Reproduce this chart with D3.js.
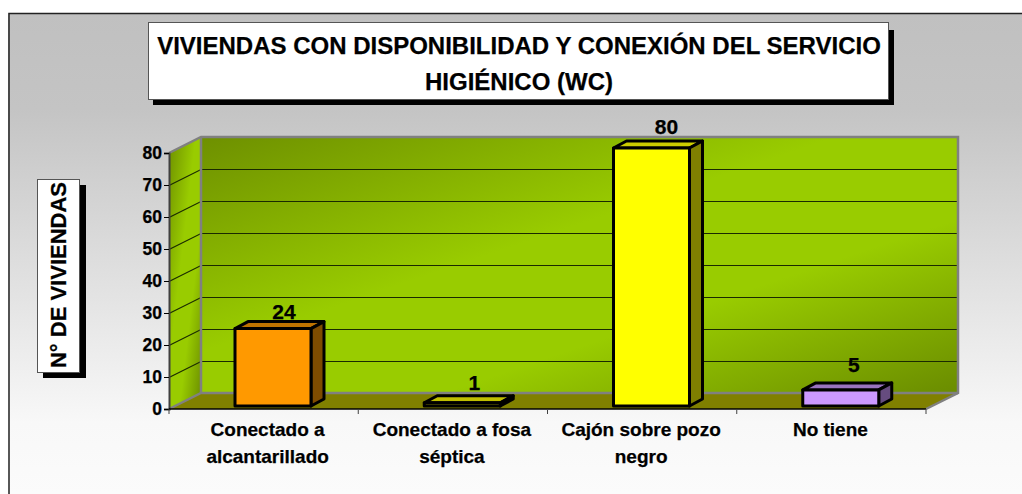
<!DOCTYPE html>
<html>
<head>
<meta charset="utf-8">
<script src="https://cdn.jsdelivr.net/npm/d3@7"></script>
<style>
  html, body { margin: 0; padding: 0; background: #fff; }
  svg { display: block; }
  text { font-family: "Liberation Sans", Arial, sans-serif; font-weight: bold; fill: #000; stroke: #000; stroke-width: 0.25px; }
</style>
</head>
<body>
<svg id="chart" width="1022" height="494"></svg>
<script>
var categories = [["Conectado a", "alcantarillado"], ["Conectado a fosa", "séptica"], ["Cajón sobre pozo", "negro"], ["No tiene"]];
var values = [24, 1, 80, 5];
var barColors = ["#ff9900", "#cccc00", "#ffff00", "#cc99ff"];
var topColors = ["#bf7300", "#bfbf00", "#cccc00", "#9973bf"];
var sideColors = ["#7f4c00", "#7f7f00", "#7f7f00", "#664c7f"];
var yTicks = [0, 10, 20, 30, 40, 50, 60, 70, 80];
var titleLines = ["VIVIENDAS CON DISPONIBILIDAD Y CONEXIÓN DEL SERVICIO", "HIGIÉNICO (WC)"];
var yTitle = "N° DE VIVIENDAS";

var svg = d3.select("#chart");
var defs = svg.append("defs");

function gradient(id, x1, y1, x2, y2, stops) {
  var g = defs.append("linearGradient").attr("id", id)
    .attr("x1", x1).attr("y1", y1).attr("x2", x2).attr("y2", y2);
  stops.forEach(s => g.append("stop").attr("offset", s[0]).attr("stop-color", s[1]));
}
gradient("bgGrad", 0, 0, 0, 1, [[0, "#c0c0c0"], [0.2, "#c4c4c4"], [0.85, "#f8f8f8"], [1, "#fbfbfb"]]);
gradient("wallGrad", 0, 0, 1, 1, [[0, "#6e9000"], [0.42, "#99cc00"], [0.66, "#99cc00"], [1, "#6a8c00"]]);

// chart frame, only the top and left edges show
svg.append("rect").attr("x", 8).attr("y", 13).attr("width", 1014).attr("height", 481)
  .attr("fill", "url(#bgGrad)");
svg.append("path").attr("d", "M9,494V13.5H1022")
  .attr("fill", "none").attr("stroke", "#222").attr("stroke-width", 1.5);

var left = 169, right = 926, base = 409, topY = 153;
var depthX = 32, depthY = -16;

var x = d3.scaleBand().domain(d3.range(categories.length)).range([left, right]);
var y = d3.scaleLinear().domain([0, 80]).range([base, topY]);
// bars stand inside the floor, so they get their own vertical scale
var barY = d3.scaleLinear().domain([0, 80]).range([406, 148]);

var line = d3.line();

// side wall
svg.append("path")
  .attr("d", line([[left, base], [left, topY], [left + depthX, topY + depthY], [left + depthX, base + depthY]]) + "Z")
  .attr("fill", "url(#wallGrad)");

// back wall
svg.append("rect")
  .attr("x", left + depthX).attr("y", topY + depthY)
  .attr("width", right - left).attr("height", base - topY)
  .attr("fill", "url(#wallGrad)");

// floor
svg.append("path")
  .attr("d", line([[left, base], [left + depthX, base + depthY], [right + depthX, base + depthY], [right, base]]) + "Z")
  .attr("fill", "#808000");

// gridlines on walls
var grid = yTicks.filter(d => d > 0 && d < 80);
svg.append("g").selectAll("path").data(grid).enter().append("path")
  .attr("d", d => line([[left, y(d) + .5], [left + depthX, y(d) + depthY + .5], [right + depthX, y(d) + depthY + .5]]))
  .attr("fill", "none").attr("stroke", "#1a2a00").attr("stroke-width", 1.2);

// wall outline
svg.append("path")
  .attr("d", line([[left, topY], [left + depthX, topY + depthY], [right + depthX, topY + depthY], [right + depthX, base + depthY], [right, base]]))
  .attr("fill", "none").attr("stroke", "#808080").attr("stroke-width", 2.5);
svg.append("path")
  .attr("d", line([[left, base], [left + depthX, base + depthY], [right + depthX, base + depthY]]))
  .attr("fill", "none").attr("stroke", "#808080").attr("stroke-width", 2.5);
svg.append("path")
  .attr("d", line([[left + depthX, topY + depthY], [left + depthX, base + depthY]]))
  .attr("fill", "none").attr("stroke", "#808080").attr("stroke-width", 2.5);

// axes
var yAxis = d3.axisLeft(y).tickValues(yTicks).tickSize(5).tickPadding(2);
var gy = svg.append("g").attr("transform", "translate(" + left + ",0)").call(yAxis);
gy.selectAll("text").style("font-size", "17.5px").style("font-family", "'Liberation Sans', Arial, sans-serif").style("font-weight", "bold");
gy.select(".domain").attr("stroke", "#404040").attr("stroke-width", 2);

var edges = d3.range(categories.length + 1).map(i => left + i * x.step());
var gx = svg.append("g");
gx.append("line").attr("x1", left).attr("x2", right).attr("y1", base).attr("y2", base)
  .attr("stroke", "#000").attr("stroke-width", 1.5);
gx.selectAll(".tick").data(edges).enter().append("line").attr("class", "tick")
  .attr("x1", d => d).attr("x2", d => d).attr("y1", base).attr("y2", base + 5)
  .attr("stroke", "#404040");

var catNudge = [4, -1, -1, -1];
gx.selectAll(".cat").data(categories).enter().append("text").attr("class", "cat")
  .attr("text-anchor", "middle").style("font-size", "19px")
  .attr("transform", (d, i) => "translate(" + (x(i) + x.bandwidth() / 2 + catNudge[i]) + ",0)")
  .selectAll("tspan").data(d => d).enter().append("tspan")
  .attr("x", 0).attr("y", (d, i) => 436 + i * 27)
  .text(d => d);

// bars
var barW = 76, barInsetX = 66, barDX = 13, barDY = -7;
var bars = svg.append("g").selectAll("g").data(values).enter().append("g")
  .attr("stroke", "#000").attr("stroke-width", 3).attr("stroke-linejoin", "round");

function barX(i) { return x(i) + barInsetX; }

bars.append("path")
  .attr("d", (d, i) => line([[barX(i), barY(d)], [barX(i) + barDX, barY(d) + barDY], [barX(i) + barW + barDX, barY(d) + barDY], [barX(i) + barW, barY(d)]]) + "Z")
  .attr("fill", (d, i) => topColors[i]);
bars.append("path")
  .attr("d", (d, i) => line([[barX(i) + barW, barY(d)], [barX(i) + barW + barDX, barY(d) + barDY], [barX(i) + barW + barDX, barY(0) + barDY], [barX(i) + barW, barY(0)]]) + "Z")
  .attr("fill", (d, i) => sideColors[i]);
bars.append("rect")
  .attr("x", (d, i) => barX(i)).attr("y", d => barY(d))
  .attr("width", barW).attr("height", d => barY(0) - barY(d))
  .attr("fill", (d, i) => barColors[i]);

// value labels, nudged a little per bar as in the original
var labelNudge = [4, 1, -2, -4];
var labelNudgeX = [-1, 0, 3, 1];
svg.append("g").selectAll("text").data(values).enter().append("text")
  .attr("text-anchor", "middle").style("font-size", "21px")
  .attr("x", (d, i) => barX(i) + barW / 2 + 12 + labelNudgeX[i])
  .attr("y", (d, i) => y(d) - 17 + labelNudge[i])
  .text(d => d);

// title box
svg.append("rect").attr("x", 153).attr("y", 30).attr("width", 741).attr("height", 75).attr("fill", "#000");
svg.append("rect").attr("x", 148.5).attr("y", 22.5).attr("width", 740).attr("height", 77)
  .attr("fill", "#fff").attr("stroke", "#555").attr("stroke-width", 1);
svg.append("g").selectAll("text").data(titleLines).enter().append("text")
  .attr("x", 519).attr("y", (d, i) => 54 + i * 36)
  .attr("text-anchor", "middle").style("font-size", "24px")
  .text(d => d);

// y axis title box
svg.append("rect").attr("x", 43).attr("y", 185).attr("width", 43).attr("height", 193).attr("fill", "#000");
svg.append("rect").attr("x", 37.5).attr("y", 179.5).attr("width", 42).attr("height", 193)
  .attr("fill", "#fff").attr("stroke", "#555").attr("stroke-width", 1);
svg.append("text")
  .attr("transform", "translate(66,275) rotate(-90)")
  .attr("text-anchor", "middle").style("font-size", "22px")
  .text(yTitle);
</script>
</body>
</html>
